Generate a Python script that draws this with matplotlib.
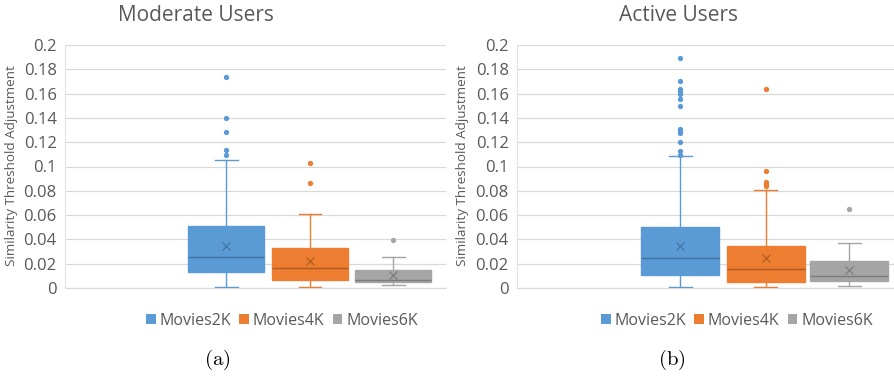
import matplotlib
matplotlib.use("Agg")
import matplotlib.pyplot as plt
from matplotlib.patches import Patch

plt.rcParams['font.family'] = ['Open Sans', 'DejaVu Sans']
plt.rcParams['mathtext.fontset'] = 'cm'

series = ["Movies2K", "Movies4K", "Movies6K"]
colors = ["#5B9BD5", "#ED7D31", "#A5A5A5"]
dark = ["#41719C", "#AE5A21", "#7B7B7B"]
yticks = [0, 0.02, 0.04, 0.06, 0.08, 0.1, 0.12, 0.14, 0.16, 0.18, 0.2]
ytick_labels = ["0", "0.02", "0.04", "0.06", "0.08", "0.1", "0.12", "0.14", "0.16", "0.18", "0.2"]

# Moderate users
mod_whislo = [0.0008, 0.0008, 0.0022]
mod_q1 = [0.0129, 0.0063, 0.0047]
mod_med = [0.0255, 0.0164, 0.0063]
mod_mean = [0.0342, 0.0222, 0.0107]
mod_q3 = [0.0512, 0.0326, 0.0151]
mod_whishi = [0.1055, 0.0605, 0.0252]
mod_fliers = [[0.1737, 0.1403, 0.1288, 0.1137, 0.1093],
              [0.1030, 0.0863],
              [0.0395]]

# Active users
act_whislo = [0.0006, 0.0006, 0.0017]
act_q1 = [0.0107, 0.0047, 0.0058]
act_med = [0.0250, 0.0157, 0.0102]
act_mean = [0.0349, 0.0245, 0.0151]
act_q3 = [0.0501, 0.0347, 0.0226]
act_whishi = [0.1089, 0.0803, 0.0369]
act_fliers = [[0.1890, 0.1700, 0.1640, 0.1620, 0.1600, 0.1553, 0.1500, 0.1310,
               0.1290, 0.1275, 0.1200, 0.1130, 0.1092],
              [0.1640, 0.0963, 0.0872, 0.0856, 0.0839],
              [0.0649]]

titles = ["Moderate Users", "Active Users"]
subcaps = [r"$\mathrm{(a)}$", r"$\mathrm{(b)}$"]
ylabel = "Similarity Threshold Adjustment"

fig = plt.figure(figsize=(8.95, 3.76), dpi=100)
ax_pos = [[65/895, 1-288/376, 381/895, 243/376],
          [517/895, 1-288/376, 378/895, 243/376]]
positions = [[1.93, 2.93, 3.93], [1.92, 2.93, 3.91]]
xlims = [(0, 4.56), (0, 4.45)]
title_x = [196/895, 679/895]
ylab_x = [12/895, 463/895]
legend_x = [282/895, 737/895]
cap_x = [217/895, 672/895]

data = [
    (mod_whislo, mod_q1, mod_med, mod_mean, mod_q3, mod_whishi, mod_fliers),
    (act_whislo, act_q1, act_med, act_mean, act_q3, act_whishi, act_fliers),
]

for k in range(2):
    ax = fig.add_axes(ax_pos[k])
    wl, q1, md, mn, q3, wh, fl = data[k]
    for i in range(3):
        st = [dict(whislo=wl[i], q1=q1[i], med=md[i], mean=mn[i], q3=q3[i],
                   whishi=wh[i], fliers=fl[i])]
        ax.bxp(st, positions=[positions[k][i]], widths=0.91, patch_artist=True,
               showmeans=True, showfliers=True, capwidths=0.27,
               boxprops=dict(facecolor=colors[i], edgecolor=colors[i], linewidth=1.0),
               medianprops=dict(color=dark[i], linewidth=1.0),
               whiskerprops=dict(color=colors[i], linewidth=1.0),
               capprops=dict(color=colors[i], linewidth=1.0),
               meanprops=dict(marker='x', markeredgecolor=dark[i], markersize=6,
                              markeredgewidth=0.8),
               flierprops=dict(marker='o', markerfacecolor=colors[i],
                               markeredgecolor=colors[i], markersize=2.8),
               zorder=3)
    ax.set_xlim(*xlims[k])
    ax.set_ylim(0, 0.2)
    ax.set_yticks(yticks)
    ax.set_yticklabels(ytick_labels, fontsize=12, color="#595959")
    ax.set_xticks([])
    ax.tick_params(axis='y', length=0, pad=6)
    ax.grid(axis='y', color="#D9D9D9", linewidth=0.9, zorder=0)
    ax.set_axisbelow(True)
    for s in ['top', 'right']:
        ax.spines[s].set_visible(False)
    ax.spines['left'].set_color("#E3E3E3")
    ax.spines['bottom'].set_color("#D9D9D9")
    fig.text(title_x[k], 1-15.5/376, titles[k], ha='center', va='center',
             fontsize=15, color="#595959")
    fig.text(ylab_x[k], 1-166/376, ylabel, rotation=90, ha='center', va='center',
             fontsize=9.7, color="#595959")
    handles = [Patch(facecolor=colors[i], edgecolor='none') for i in range(3)]
    fig.legend(handles, series, loc='center', bbox_to_anchor=(legend_x[k], 1-321/376),
               ncol=3, frameon=False, fontsize=11.5, labelcolor="#595959",
               handlelength=0.6, handleheight=0.6, handletextpad=0.25,
               columnspacing=0.5)
    fig.text(cap_x[k], 1-360/376, subcaps[k], ha='center', va='center',
             fontsize=15, color="black")

fig.savefig("out.png", dpi=100)
